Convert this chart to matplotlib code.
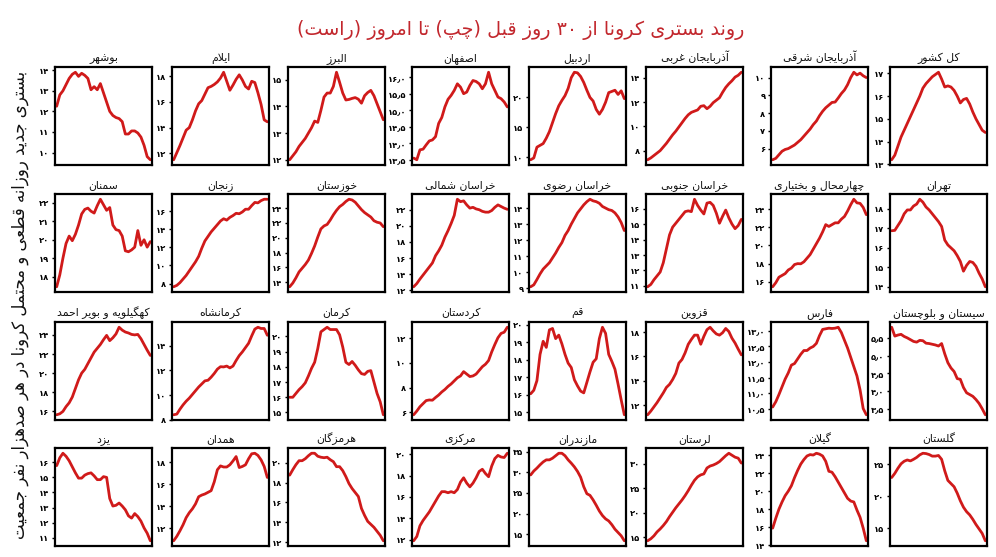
import re
import numpy as np
import matplotlib
matplotlib.use("Agg")
import matplotlib.pyplot as plt
from matplotlib.ticker import FixedLocator, FuncFormatter

plt.rcParams['font.family'] = ['DejaVu Sans']

# ---------------- Persian shaping helpers (matplotlib has no bidi/shaping) -------------
FORMS = {
    '\u0627': ('\uFE8D', '\uFE8E', None, None),
    '\u0622': ('\uFE81', '\uFE82', None, None),
    '\u0628': ('\uFE8F', '\uFE90', '\uFE91', '\uFE92'),
    '\u067E': ('\uFB56', '\uFB57', '\uFB58', '\uFB59'),
    '\u062A': ('\uFE95', '\uFE96', '\uFE97', '\uFE98'),
    '\u062B': ('\uFE99', '\uFE9A', '\uFE9B', '\uFE9C'),
    '\u062C': ('\uFE9D', '\uFE9E', '\uFE9F', '\uFEA0'),
    '\u0686': ('\uFB7A', '\uFB7B', '\uFB7C', '\uFB7D'),
    '\u062D': ('\uFEA1', '\uFEA2', '\uFEA3', '\uFEA4'),
    '\u062E': ('\uFEA5', '\uFEA6', '\uFEA7', '\uFEA8'),
    '\u062F': ('\uFEA9', '\uFEAA', None, None),
    '\u0630': ('\uFEAB', '\uFEAC', None, None),
    '\u0631': ('\uFEAD', '\uFEAE', None, None),
    '\u0632': ('\uFEAF', '\uFEB0', None, None),
    '\u0698': ('\uFB8A', '\uFB8B', None, None),
    '\u0633': ('\uFEB1', '\uFEB2', '\uFEB3', '\uFEB4'),
    '\u0634': ('\uFEB5', '\uFEB6', '\uFEB7', '\uFEB8'),
    '\u0635': ('\uFEB9', '\uFEBA', '\uFEBB', '\uFEBC'),
    '\u0636': ('\uFEBD', '\uFEBE', '\uFEBF', '\uFEC0'),
    '\u0637': ('\uFEC1', '\uFEC2', '\uFEC3', '\uFEC4'),
    '\u0638': ('\uFEC5', '\uFEC6', '\uFEC7', '\uFEC8'),
    '\u0639': ('\uFEC9', '\uFECA', '\uFECB', '\uFECC'),
    '\u063A': ('\uFECD', '\uFECE', '\uFECF', '\uFED0'),
    '\u0641': ('\uFED1', '\uFED2', '\uFED3', '\uFED4'),
    '\u0642': ('\uFED5', '\uFED6', '\uFED7', '\uFED8'),
    '\u06A9': ('\uFB8E', '\uFB8F', '\uFB90', '\uFB91'),
    '\u06AF': ('\uFB92', '\uFB93', '\uFB94', '\uFB95'),
    '\u0644': ('\uFEDD', '\uFEDE', '\uFEDF', '\uFEE0'),
    '\u0645': ('\uFEE1', '\uFEE2', '\uFEE3', '\uFEE4'),
    '\u0646': ('\uFEE5', '\uFEE6', '\uFEE7', '\uFEE8'),
    '\u0648': ('\uFEED', '\uFEEE', None, None),
    '\u0647': ('\uFEE9', '\uFEEA', '\uFEEB', '\uFEEC'),
    '\u06CC': ('\uFBFC', '\uFBFD', '\uFBFE', '\uFBFF'),
    '\u0626': ('\uFE89', '\uFE8A', '\uFE8B', '\uFE8C'),
}
LAMALEF = {'\u0627': ('\uFEFB', '\uFEFC'), '\u0622': ('\uFEF5', '\uFEF6')}


def shape(text):
    text = text.replace('\u0643', '\u06A9').replace('\u064A', '\u06CC').replace('\u0627\u0653', '\u0622')
    ch = list(text)
    n = len(ch)
    res = []
    i = 0
    while i < n:
        c = ch[i]
        if c not in FORMS:
            res.append(c)
            i += 1
            continue
        prev = ch[i - 1] if i > 0 else None
        cprev = prev is not None and prev in FORMS and FORMS[prev][2] is not None
        if c == '\u0644' and i + 1 < n and ch[i + 1] in LAMALEF:
            iso, fin = LAMALEF[ch[i + 1]]
            res.append(fin if cprev else iso)
            i += 2
            continue
        nxt = ch[i + 1] if i + 1 < n else None
        cnext = FORMS[c][2] is not None and nxt is not None and nxt in FORMS
        iso, fin, ini, med = FORMS[c]
        if cprev and cnext:
            res.append(med)
        elif cprev:
            res.append(fin)
        elif cnext:
            res.append(ini)
        else:
            res.append(iso)
        i += 1
    return ''.join(res)


def rtl(text):
    s = shape(text)[::-1]
    s = s.translate(str.maketrans('()', ')('))
    s = re.sub(r'[0-9\u06F0-\u06F9\u066B.]+', lambda m: m.group(0)[::-1], s)
    return s


FA_DIGITS = str.maketrans('0123456789.', '\u06F0\u06F1\u06F2\u06F3\u06F4\u06F5\u06F6\u06F7\u06F8\u06F9\u066B')


def fa_num(v, decimals):
    return (f"{v:.{decimals}f}").translate(FA_DIGITS)


# ---------------- Data ----------------
title = "روند بستری کرونا از ۳۰ روز قبل (چپ) تا امروز (راست)"
ylabel = "بستری جدید روزانه قطعی و محتمل کرونا در هر صدهزار نفر جمعیت"

provinces = [
    "کل کشور", "آذربایجان شرقی", "آذربایجان غربی", "اردبیل", "اصفهان", "البرز", "ایلام", "بوشهر",
    "تهران", "چهارمحال و بختیاری", "خراسان جنوبی", "خراسان رضوی", "خراسان شمالی", "خوزستان", "زنجان", "سمنان",
    "سیستان و بلوچستان", "فارس", "قزوین", "قم", "کردستان", "کرمان", "کرمانشاه", "کهگیلویه و بویر احمد",
    "گلستان", "گیلان", "لرستان", "مازندران", "مرکزی", "هرمزگان", "همدان", "یزد",
]

kol_keshvar = [13.2, 13.4, 13.8, 14.2, 14.5, 14.8, 15.1, 15.4, 15.7, 16.0, 16.35, 16.55, 16.7, 16.85, 16.95,
               17.05, 16.75, 16.4, 16.45, 16.4, 16.25, 16.0, 15.7, 15.85, 15.9, 15.65, 15.3, 15.0, 14.75, 14.5, 14.4]
az_sharghi = [5.37, 5.45, 5.65, 5.85, 5.95, 6.0, 6.1, 6.2, 6.35, 6.5, 6.7, 6.9, 7.1, 7.35, 7.55, 7.85, 8.1, 8.3,
              8.45, 8.6, 8.62, 8.85, 9.1, 9.3, 9.6, 10.0, 10.3, 10.15, 10.25, 10.1, 10.0]
az_gharbi = [7.25, 7.4, 7.6, 7.8, 8.0, 8.3, 8.6, 8.95, 9.3, 9.6, 9.95, 10.3, 10.65, 10.95, 11.15, 11.25, 11.35,
             11.65, 11.7, 11.45, 11.65, 11.95, 12.15, 12.35, 12.8, 13.2, 13.5, 13.75, 14.05, 14.2, 14.45]
ardabil = [9.6, 9.9, 11.7, 12.0, 12.3, 13.2, 14.3, 15.8, 17.3, 18.6, 19.5, 20.3, 21.5, 23.3, 24.2, 24.1, 23.5,
           22.5, 21.2, 20.0, 19.4, 18.0, 17.2, 18.0, 19.2, 20.8, 21.0, 21.2, 20.5, 21.1, 19.8]
isfahan = [13.55, 13.5, 13.8, 13.82, 13.95, 14.07, 14.1, 14.2, 14.6, 14.78, 15.1, 15.33, 15.45, 15.6, 15.8, 15.7,
           15.5, 15.55, 15.75, 15.9, 15.87, 15.8, 15.65, 15.8, 16.15, 15.8, 15.6, 15.4, 15.35, 15.25, 15.1]
alborz = [12.0, 12.15, 12.3, 12.5, 12.65, 12.8, 13.0, 13.2, 13.45, 13.4, 13.85, 14.35, 14.5, 14.5, 14.75, 15.28,
          14.9, 14.5, 14.24, 14.26, 14.3, 14.33, 14.27, 14.12, 14.4, 14.52, 14.6, 14.4, 14.1, 13.8, 13.5]
ilam = [11.5, 12.05, 12.6, 13.2, 13.8, 14.0, 14.6, 15.3, 15.85, 16.1, 16.6, 17.1, 17.2, 17.35, 17.55, 17.85, 18.3,
        17.6, 16.9, 17.3, 17.75, 18.1, 17.7, 17.2, 17.0, 17.6, 17.5, 16.7, 15.8, 14.6, 14.45]
bushehr = [12.25, 12.8, 13.0, 13.3, 13.6, 13.8, 13.9, 13.7, 13.85, 13.75, 13.6, 13.05, 13.2, 13.05, 13.35, 12.9,
           12.45, 12.0, 11.8, 11.7, 11.65, 11.5, 10.9, 10.9, 11.05, 11.05, 10.95, 10.75, 10.35, 9.8, 9.65]
tehran = [16.88, 16.9, 17.15, 17.4, 17.75, 17.95, 17.95, 18.15, 18.25, 18.5, 18.35, 18.1, 17.95, 17.75, 17.55,
          17.35, 17.1, 16.4, 16.15, 16.0, 15.85, 15.6, 15.3, 14.8, 15.1, 15.3, 15.25, 15.05, 14.7, 14.4, 14.0]
chaharmahal = [15.45, 15.9, 16.5, 16.7, 16.9, 17.3, 17.5, 17.9, 18.0, 17.98, 18.2, 18.6, 19.0, 19.6, 20.2, 20.8,
               21.5, 22.3, 22.1, 22.3, 22.5, 22.5, 22.9, 23.2, 23.8, 24.5, 25.1, 24.7, 24.65, 24.2, 23.4]
kh_jonubi = [10.95, 11.1, 11.4, 11.65, 11.9, 12.5, 13.4, 14.3, 14.8, 15.05, 15.3, 15.55, 15.8, 15.85, 15.8, 16.6,
             16.2, 15.9, 15.65, 16.35, 16.4, 16.2, 15.7, 15.05, 15.5, 15.9, 15.4, 15.0, 14.7, 14.9, 15.3]
kh_razavi = [9.1, 9.22, 9.55, 9.9, 10.2, 10.4, 10.6, 10.9, 11.2, 11.55, 11.85, 12.3, 12.6, 13.0, 13.35, 13.7,
             13.95, 14.2, 14.4, 14.55, 14.45, 14.4, 14.3, 14.1, 14.0, 13.9, 13.85, 13.7, 13.45, 13.1, 12.6]
kh_shomali = [12.45, 12.85, 13.4, 13.9, 14.4, 14.9, 15.4, 16.3, 16.9, 17.6, 18.6, 19.4, 20.3, 21.3, 23.3, 23.0,
              23.1, 22.6, 22.2, 22.3, 22.1, 22.0, 21.8, 21.7, 21.7, 21.9, 22.3, 22.6, 22.4, 22.2, 22.05]
khuzestan = [13.4, 13.9, 14.6, 15.4, 15.9, 16.4, 17.0, 17.9, 18.9, 20.1, 21.2, 21.6, 21.8, 22.4, 23.1, 23.7, 24.2,
             24.5, 24.9, 25.2, 25.1, 24.8, 24.3, 23.8, 23.4, 23.1, 22.8, 22.3, 22.1, 22.0, 21.5]
zanjan = [7.65, 7.8, 8.1, 8.5, 8.9, 9.4, 9.9, 10.4, 11.0, 11.9, 12.7, 13.2, 13.7, 14.1, 14.5, 14.9, 15.15, 15.0,
          15.3, 15.5, 15.75, 15.7, 15.9, 16.2, 16.2, 16.6, 16.95, 16.9, 17.15, 17.3, 17.3]
semnan = [17.45, 18.1, 19.0, 19.8, 20.2, 19.95, 20.3, 20.8, 21.4, 21.65, 21.72, 21.55, 21.45, 21.85, 22.2, 21.9,
          21.6, 21.75, 20.8, 20.55, 20.5, 20.2, 19.4, 19.35, 19.45, 19.6, 20.5, 19.7, 20.0, 19.6, 19.9]
sistan = [5.8, 5.55, 5.58, 5.6, 5.54, 5.5, 5.45, 5.4, 5.38, 5.43, 5.42, 5.35, 5.34, 5.32, 5.3, 5.27, 5.34, 5.05,
          4.8, 4.65, 4.55, 4.35, 4.33, 4.1, 3.95, 3.9, 3.85, 3.76, 3.65, 3.5, 3.33]
fars = [10.55, 10.72, 10.95, 11.2, 11.45, 11.65, 11.9, 11.95, 12.1, 12.25, 12.37, 12.37, 12.45, 12.5, 12.6, 12.85,
        13.05, 13.07, 13.09, 13.08, 13.09, 13.12, 12.95, 12.7, 12.45, 12.15, 11.85, 11.55, 11.1, 10.5, 10.3]
qazvin = [11.2, 11.5, 11.85, 12.2, 12.6, 13.0, 13.45, 13.7, 14.1, 14.6, 15.45, 15.75, 16.3, 17.0, 17.4, 17.75,
          17.75, 17.0, 17.65, 18.2, 18.4, 18.1, 17.85, 17.75, 17.95, 18.3, 18.05, 17.5, 17.1, 16.6, 16.13]
qom = [16.05, 16.25, 16.8, 18.3, 19.05, 18.7, 19.7, 19.78, 19.2, 19.4, 18.9, 18.3, 17.8, 17.55, 16.85, 16.5, 16.2,
       16.1, 16.7, 17.3, 17.85, 18.05, 19.2, 19.85, 19.5, 18.3, 17.9, 17.45, 16.6, 15.7, 14.85]
kordestan = [5.8, 6.1, 6.45, 6.7, 6.95, 7.0, 6.98, 7.2, 7.4, 7.65, 7.85, 8.1, 8.3, 8.55, 8.8, 8.95, 9.3, 9.1, 8.9,
             8.95, 9.1, 9.4, 9.7, 9.9, 10.2, 10.9, 11.5, 12.05, 12.4, 12.5, 12.9]
kerman = [16.0, 16.0, 16.25, 16.5, 16.7, 16.95, 17.4, 17.9, 18.3, 19.2, 20.3, 20.45, 20.6, 20.45, 20.45, 20.45,
          20.1, 19.3, 18.3, 18.15, 18.35, 18.1, 17.8, 17.55, 17.5, 17.7, 17.75, 17.0, 16.25, 15.7, 14.85]
kermanshah = [8.4, 8.45, 8.85, 9.2, 9.5, 9.75, 10.05, 10.35, 10.65, 10.9, 11.15, 11.2, 11.45, 11.75, 12.1, 12.3,
              12.28, 12.35, 12.2, 12.35, 12.8, 13.2, 13.5, 13.85, 14.2, 14.8, 15.35, 15.5, 15.4, 15.4, 14.85]
kohgiluyeh = [15.65, 15.75, 16.0, 16.5, 16.9, 17.5, 18.4, 19.3, 20.0, 20.4, 21.0, 21.6, 22.2, 22.6, 23.0, 23.5,
              23.95, 23.4, 23.7, 24.1, 24.8, 24.5, 24.3, 24.2, 24.05, 24.0, 24.05, 23.6, 23.0, 22.4, 21.85]
golestan = [22.95, 23.6, 24.4, 25.1, 25.5, 25.7, 25.55, 25.8, 26.1, 26.5, 26.75, 26.7, 26.55, 26.3, 26.3, 26.4,
            25.8, 24.0, 22.5, 22.0, 21.5, 20.5, 19.3, 18.3, 17.6, 17.1, 16.4, 15.6, 14.9, 14.2, 13.05]
gilan = [15.9, 17.0, 18.0, 18.8, 19.5, 20.0, 20.6, 21.5, 22.3, 23.0, 23.5, 23.9, 24.05, 24.0, 24.2, 24.1, 23.9,
         23.3, 22.2, 22.1, 21.6, 21.0, 20.4, 19.8, 19.2, 18.9, 18.8, 17.9, 17.1, 15.9, 14.5]
lorestan = [14.3, 14.7, 15.3, 16.1, 16.7, 17.4, 18.2, 19.2, 20.1, 21.0, 21.8, 22.6, 23.5, 24.5, 25.6, 26.6, 27.3,
            27.7, 27.9, 29.1, 29.5, 29.7, 30.0, 30.4, 31.0, 31.6, 32.1, 31.7, 31.3, 31.1, 30.1]
mazandaran = [29.35, 30.3, 31.0, 31.8, 32.5, 33.0, 33.0, 33.4, 34.0, 34.6, 34.6, 34.0, 33.0, 32.2, 31.3, 30.2,
              28.8, 26.5, 24.8, 24.4, 23.3, 22.0, 20.6, 19.5, 18.7, 18.2, 17.3, 16.2, 15.4, 14.6, 13.4]
markazi = [11.9, 12.3, 13.3, 13.8, 14.2, 14.6, 15.1, 15.6, 16.1, 16.5, 16.5, 16.4, 16.5, 16.4, 16.7, 17.4, 17.8,
           17.3, 16.95, 17.3, 17.8, 18.4, 18.6, 18.2, 17.9, 18.9, 19.6, 19.9, 19.75, 19.7, 20.1]
hormozgan = [18.75, 19.3, 19.8, 20.2, 20.2, 20.4, 20.7, 20.95, 20.95, 20.65, 20.55, 20.5, 20.55, 20.3, 20.1, 19.6,
             19.6, 19.2, 18.6, 17.9, 17.4, 17.0, 16.6, 15.4, 14.7, 14.1, 13.8, 13.5, 13.1, 12.7, 12.15]
hamedan = [10.85, 11.25, 11.75, 12.3, 12.95, 13.4, 13.75, 14.2, 14.85, 15.0, 15.1, 15.25, 15.4, 16.2, 17.3, 17.65,
           17.55, 17.55, 17.75, 18.1, 18.5, 17.5, 17.6, 17.75, 18.3, 18.75, 18.8, 18.6, 18.2, 17.6, 16.6]
yazd = [15.78, 16.3, 16.6, 16.4, 16.1, 15.7, 15.3, 14.95, 14.95, 15.15, 15.25, 15.3, 15.1, 14.85, 14.85, 15.05,
        15.0, 13.6, 13.1, 13.15, 13.3, 13.1, 12.85, 12.45, 12.3, 12.6, 12.4, 12.1, 11.65, 11.3, 10.8]

series = [kol_keshvar, az_sharghi, az_gharbi, ardabil, isfahan, alborz, ilam, bushehr,
          tehran, chaharmahal, kh_jonubi, kh_razavi, kh_shomali, khuzestan, zanjan, semnan,
          sistan, fars, qazvin, qom, kordestan, kerman, kermanshah, kohgiluyeh,
          golestan, gilan, lorestan, mazandaran, markazi, hormozgan, hamedan, yazd]

ytick_values = [
    [13, 14, 15, 16, 17], [6, 7, 8, 9, 10], [8, 10, 12, 14], [10, 15, 20],
    [13.5, 14.0, 14.5, 15.0, 15.5, 16.0], [12, 13, 14, 15], [12, 14, 16, 18], [10, 11, 12, 13, 14],
    [14, 15, 16, 17, 18], [16, 18, 20, 22, 24], [11, 12, 13, 14, 15, 16], [9, 10, 11, 12, 13, 14],
    [12, 14, 16, 18, 20, 22], [14, 16, 18, 20, 22, 24], [8, 10, 12, 14, 16], [18, 19, 20, 21, 22],
    [3.5, 4.0, 4.5, 5.0, 5.5], [10.5, 11.0, 11.5, 12.0, 12.5, 13.0], [12, 14, 16, 18], [15, 16, 17, 18, 19, 20],
    [6, 8, 10, 12], [15, 16, 17, 18, 19, 20], [8, 10, 12, 14], [16, 18, 20, 22, 24],
    [15, 20, 25], [14, 16, 18, 20, 22, 24], [15, 20, 25, 30], [15, 20, 25, 30, 35],
    [12, 14, 16, 18, 20], [12, 14, 16, 18, 20], [12, 14, 16, 18], [11, 12, 13, 14, 15, 16],
]
tick_decimals = [0, 0, 0, 0, 1, 0, 0, 0,
                 0, 0, 0, 0, 0, 0, 0, 0,
                 1, 1, 0, 0, 0, 0, 0, 0,
                 0, 0, 0, 0, 0, 0, 0, 0]

# ---------------- Layout ----------------
W, H = 996, 557
fig = plt.figure(figsize=(W / 100, H / 100), dpi=100)
fig.patch.set_facecolor('white')

col_left = [55, 172, 288, 412, 529, 646, 771, 890]
row_top = [67, 194, 322, 448]
pw, ph = 97, 98
LINE_COLOR = '#d01a1a'

for k, (name, vals) in enumerate(zip(provinces, series)):
    r = k // 8
    c = 7 - (k % 8)
    left = col_left[c] / W
    bottom = 1 - (row_top[r] + ph) / H
    ax = fig.add_axes([left, bottom, pw / W, ph / H])
    x = np.arange(len(vals))
    ax.plot(x, vals, color=LINE_COLOR, lw=2.0, solid_joinstyle='round', solid_capstyle='round')
    ax.margins(x=0.018, y=0.06)
    ax.set_xticks([])
    dec = tick_decimals[k]
    ax.yaxis.set_major_locator(FixedLocator(ytick_values[k]))
    ax.yaxis.set_major_formatter(FuncFormatter(lambda v, p, d=dec: fa_num(v, d)))
    ax.tick_params(axis='y', length=2, width=1, pad=2, labelsize=6)
    for lab in ax.get_yticklabels():
        lab.set_fontweight('bold')
    for sp in ax.spines.values():
        sp.set_linewidth(1.6)
        sp.set_color('black')
    ax.set_title(rtl(name), fontsize=7.8, pad=4, color='#111111')

fig.text(0.523, 1 - 30 / H, rtl(title), ha='center', va='center', fontsize=13.8, color='#c2272d')
fig.text(20 / W, 1 - 305 / H, rtl(ylabel), ha='center', va='center', rotation=90, fontsize=11.9, color='#111111')

fig.savefig('out.png', dpi=100)
